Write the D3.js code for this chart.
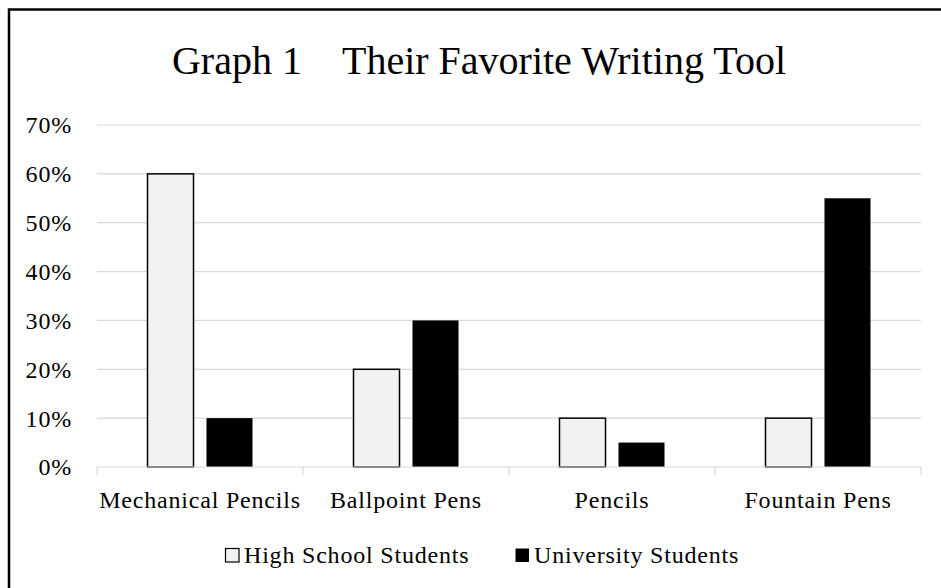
<!DOCTYPE html>
<html>
<head>
<meta charset="utf-8">
<script src="https://cdn.jsdelivr.net/npm/d3@7"></script>
<style>
  html, body { margin: 0; padding: 0; background: #fff; }
  svg { display: block; font-family: "Liberation Serif", "DejaVu Serif", serif; }
  .lbl { font-size: 24px; letter-spacing: 0.8px; }
</style>
</head>
<body>
<svg id="chart" width="941" height="588"></svg>
<script>
const categories = ['Mechanical Pencils', 'Ballpoint Pens', 'Pencils', 'Fountain Pens'];
const seriesNames = ['High School Students', 'University Students'];
const highSchool = [60, 20, 10, 10];
const university = [10, 30, 5, 55];
const yTicks = [0, 10, 20, 30, 40, 50, 60, 70];

const width = 941;
const height = 588;
const margin = { top: 125, right: 20, bottom: 121, left: 97 };

const svg = d3.select('#chart');

// outer frame, cut off at right and bottom like the source image
svg.append('rect')
  .attr('x', 9)
  .attr('y', 9.5)
  .attr('width', 960)
  .attr('height', 620)
  .attr('fill', 'none')
  .attr('stroke', '#000')
  .attr('stroke-width', 2.5);

const x = d3.scaleBand()
  .domain(categories)
  .range([margin.left, width - margin.right]);

const y = d3.scaleLinear()
  .domain([0, 70])
  .range([height - margin.bottom, margin.top]);

const inner = d3.scaleBand()
  .domain(seriesNames)
  .range([0, x.bandwidth()])
  .paddingInner(0.22)
  .paddingOuter(0.856);

// gridlines
svg.append('g')
  .selectAll('line')
  .data(yTicks.filter((d) => d > 0))
  .join('line')
  .attr('x1', margin.left)
  .attr('x2', width - margin.right)
  .attr('y1', (d) => y(d))
  .attr('y2', (d) => y(d))
  .attr('stroke', '#d9d9d9')
  .attr('stroke-width', 1.2);

// y labels
svg.append('g')
  .selectAll('text')
  .data(yTicks)
  .join('text')
  .attr('class', 'lbl')
  .attr('x', 72)
  .attr('y', (d) => y(d))
  .attr('dy', '0.35em')
  .attr('text-anchor', 'end')
  .text((d) => `${d}%`);

// bars
const rows = categories.map((c, i) => ({ category: c, values: [highSchool[i], university[i]] }));
const fills = ['#f2f2f2', '#000'];

svg.append('g')
  .selectAll('g')
  .data(rows)
  .join('g')
  .attr('transform', (d) => `translate(${x(d.category)},0)`)
  .selectAll('rect')
  .data((d) => d.values.map((v, i) => ({ series: seriesNames[i], value: v, i })))
  .join('rect')
  .attr('x', (d) => inner(d.series))
  .attr('y', (d) => y(d.value))
  .attr('width', inner.bandwidth())
  .attr('height', (d) => y(0) - y(d.value))
  .attr('fill', (d) => fills[d.i])
  .attr('stroke', (d) => (d.i === 0 ? '#000' : 'none'))
  .attr('stroke-width', 1.5);

// x axis line and category boundary ticks
const axis = svg.append('g');
axis.append('line')
  .attr('x1', margin.left)
  .attr('x2', width - margin.right)
  .attr('y1', y(0))
  .attr('y2', y(0))
  .attr('stroke', '#d9d9d9')
  .attr('stroke-width', 1.2);

const boundaries = categories.map((c) => x(c)).concat([width - margin.right]);
axis.selectAll('line.tick')
  .data(boundaries)
  .join('line')
  .attr('class', 'tick')
  .attr('x1', (d) => d)
  .attr('x2', (d) => d)
  .attr('y1', y(0))
  .attr('y2', y(0) + 8)
  .attr('stroke', '#d9d9d9')
  .attr('stroke-width', 1.2);

axis.selectAll('text')
  .data(categories)
  .join('text')
  .attr('class', 'lbl')
  .attr('x', (d) => x(d) + x.bandwidth() / 2)
  .attr('y', 508)
  .attr('text-anchor', 'middle')
  .text((d) => d);

// title
svg.append('text')
  .attr('x', 479)
  .attr('y', 74)
  .attr('text-anchor', 'middle')
  .style('font-size', '40px')
  .text('Graph 1\u3000Their Favorite Writing Tool');

// legend
const legendItems = [
  { name: seriesNames[0], x: 225, fill: fills[0], stroke: '#000' },
  { name: seriesNames[1], x: 515, fill: fills[1], stroke: 'none' },
];
const legend = svg.append('g')
  .selectAll('g')
  .data(legendItems)
  .join('g')
  .attr('transform', (d) => `translate(${d.x},555)`);

legend.append('rect')
  .attr('x', 0.5)
  .attr('y', -6.5)
  .attr('width', 13.5)
  .attr('height', 13.5)
  .attr('fill', (d) => d.fill)
  .attr('stroke', (d) => d.stroke)
  .attr('stroke-width', 1.2);

legend.append('text')
  .attr('class', 'lbl')
  .attr('x', 19)
  .attr('dy', '0.35em')
  .text((d) => d.name);
</script>
</body>
</html>
